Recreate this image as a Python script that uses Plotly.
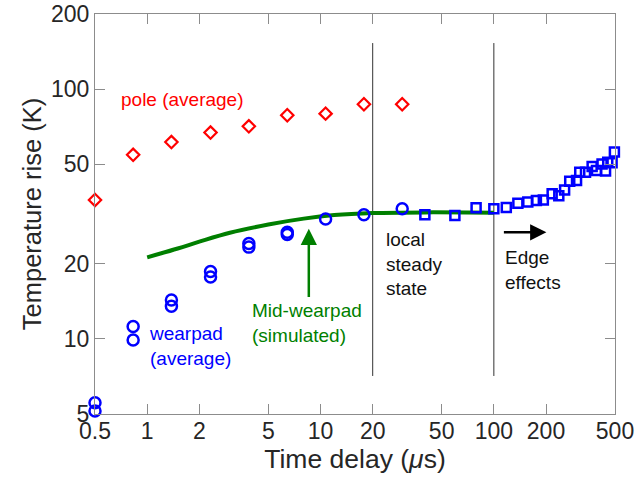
import numpy as np
import plotly.graph_objects as go

# ---------------- data ----------------
pole_t = [0.5, 0.83, 1.38, 2.32, 3.86, 6.43, 10.7, 17.8, 29.6]
pole_T = [36.0, 54.6, 61.4, 67.0, 71.0, 78.6, 79.8, 87.0, 87.0]

wear_t = [0.5, 0.5, 0.83, 0.83, 1.38, 1.38, 2.32, 2.32, 3.86, 3.86,
          6.43, 6.43, 10.7, 17.8, 29.6]
wear_T = [5.55, 5.14, 11.2, 9.9, 14.3, 13.5, 18.6, 17.7, 24.1, 23.3,
          26.7, 26.2, 30.2, 31.4, 33.2]

edge_t = [40, 59.6, 79, 100, 118, 137.6, 157, 176, 193, 217, 237, 256, 274,
          300, 313, 338, 369, 391, 421, 441, 454, 481, 496]
edge_T = [31.4, 31.2, 33.5, 33.2, 33.6, 34.9, 35.3, 35.8, 36.0, 38.1, 37.4,
          39.5, 42.8, 43.1, 46.5, 46.5, 49.0, 47.2, 50.2, 47.0, 51.0, 50.7, 56.0]

sim_t = [1, 1.5, 2, 3, 5, 8, 12, 20, 40, 100]
sim_T = [21.2, 23.0, 24.5, 26.6, 28.7, 30.3, 31.3, 31.9, 32.1, 32.0]

regime_bounds = [20, 100]
regime_T = [7.1, 153]

x_ticks = [0.5, 1, 2, 5, 10, 20, 50, 100, 200, 500]
x_ticktext = ["0.5", "1", "2", "5", "10", "20", "50", "100", "200", "500"]
y_ticks = [5, 10, 20, 50, 100, 200]
y_ticktext = ["5", "10", "20", "50", "100", "200"]

# ---------------- figure ----------------
FONT = "Liberation Sans, Arial, sans-serif"
RED = "#ff0000"
BLUE = "#0000ff"
GREEN = "#007f00"
TXT = "#262626"
AX = "#8c8c8c"

fig = go.Figure()

for xb in regime_bounds:
    fig.add_trace(go.Scatter(x=[xb, xb], y=regime_T, mode="lines",
                             line=dict(color="#333333", width=1),
                             showlegend=False, hoverinfo="skip"))

fig.add_trace(go.Scatter(x=sim_t, y=sim_T, mode="lines",
                         line=dict(color=GREEN, width=4, shape="spline"),
                         showlegend=False))

fig.add_trace(go.Scatter(x=pole_t, y=pole_T, mode="markers", cliponaxis=False,
                         marker=dict(symbol="diamond-open", size=9.5,
                                     color=RED, line=dict(color=RED, width=2.2)),
                         showlegend=False))

fig.add_trace(go.Scatter(x=wear_t, y=wear_T, mode="markers", cliponaxis=False,
                         marker=dict(symbol="circle-open", size=11,
                                     color=BLUE, line=dict(color=BLUE, width=2.5)),
                         showlegend=False))

fig.add_trace(go.Scatter(x=edge_t, y=edge_T, mode="markers", cliponaxis=False,
                         marker=dict(symbol="square-open", size=9,
                                     color=BLUE, line=dict(color=BLUE, width=2.5)),
                         showlegend=False))

L = np.log10
ann_font = dict(family=FONT, size=19)
annotations = [
    dict(x=L(0.69), y=L(90.9), text="pole (average)", font=dict(ann_font, color=RED)),
    dict(x=L(0.996), y=L(9.35), text="wearpad<br>(average)", font=dict(ann_font, color=BLUE)),
    dict(x=L(3.93), y=L(11.6), text="Mid-wearpad<br>(simulated)", font=dict(ann_font, color=GREEN)),
    dict(x=L(23.1), y=L(19.96), text="local<br>steady<br>state", font=dict(ann_font, color="#111111")),
    dict(x=L(112.4), y=L(18.8), text="Edge<br>effects", font=dict(ann_font, color="#111111")),
]
for a in annotations:
    a.update(xref="x", yref="y", xanchor="left", yanchor="middle",
             showarrow=False, align="left")

# arrows
annotations.append(dict(xref="x", yref="y", x=L(8.56), y=L(27.6),
                        axref="x", ayref="y", ax=L(8.56), ay=L(14.5),
                        showarrow=True, arrowhead=2, arrowsize=1.3,
                        arrowwidth=2.5, arrowcolor=GREEN, text=""))
annotations.append(dict(xref="x", yref="y", x=L(201), y=L(26.7),
                        axref="x", ayref="y", ax=L(112), ay=L(26.7),
                        showarrow=True, arrowhead=2, arrowsize=1.3,
                        arrowwidth=2.5, arrowcolor="#000000", text=""))

axis_common = dict(type="log", showline=True, linecolor=AX, linewidth=1,
                   mirror="ticks", ticks="inside", ticklen=10, tickcolor=AX,
                   tickwidth=1, showgrid=False, zeroline=False, automargin=False,
                   tickfont=dict(family=FONT, size=23, color=TXT))

fig.update_layout(
    width=644, height=489,
    margin=dict(l=95, r=29, t=14, b=75),
    paper_bgcolor="white", plot_bgcolor="white",
    annotations=annotations,
    xaxis=dict(axis_common, range=[L(0.5), L(500)], tickvals=x_ticks,
               ticktext=x_ticktext, ticklabelstandoff=-4,
               title=dict(text="Time delay (<i>μ</i>s)", standoff=4,
                          font=dict(family=FONT, size=26.5, color=TXT))),
    yaxis=dict(axis_common, range=[L(5), L(200)], tickvals=y_ticks,
               ticktext=y_ticktext,
               title=dict(text="Temperature rise (K)", standoff=2,
                          font=dict(family=FONT, size=25.5, color=TXT))),
)

fig.write_html("out.html", config={"displayModeBar": False},
               post_script="document.body.style.margin='0';")
